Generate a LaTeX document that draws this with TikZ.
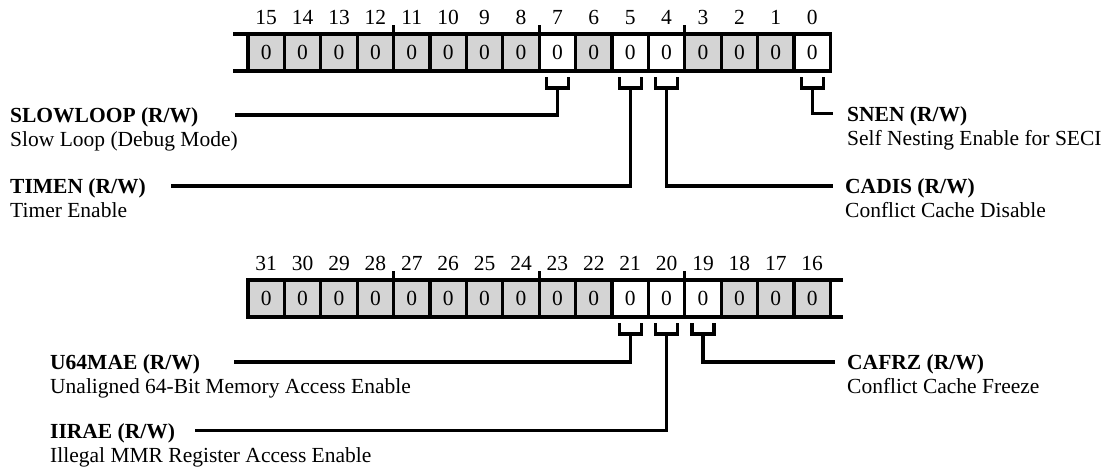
\documentclass[tikz,border=0pt]{standalone}
\usepackage{fontspec}
\setmainfont{Liberation Serif}
\usepackage{xcolor}
\usepackage{tikz}
\usetikzlibrary{positioning}
\definecolor{resgray}{gray}{0.83}
\newcommand{\regsize}{\fontsize{21.5pt}{26pt}\selectfont}
\tikzset{
  regbit/.style = {rectangle, draw, line width=3.2pt, fill=resgray,
    minimum width=36.4pt, minimum height=37pt, inner sep=0pt, outer sep=0pt},
  usedbit/.style = {regbit, fill=white},
  regline/.style = {line width=3.2pt},
  conn/.style = {line width=3.2pt},
  fieldname/.style = {inner sep=0pt, text height=15pt, text depth=0pt,
    font=\regsize\bfseries},
  fielddesc/.style = {inner sep=0pt, text height=15pt, text depth=0pt},
  every label/.style = {inner sep=0pt, text height=15pt, text depth=0pt},
}
\begin{document}
\begin{tikzpicture}[x=1pt, y=1pt, font=\regsize, label distance=9pt]
  \useasboundingbox (0,0) rectangle (1107,-471);

  % Low half-word
  \node[regbit, label=above:15] (r15) at (266.2,-52.5) {0};
  \node[regbit, right=0pt of r15, label=above:14] (r14) {0};
  \node[regbit, right=0pt of r14, label=above:13] (r13) {0};
  \node[regbit, right=0pt of r13, label=above:12] (r12) {0};
  \node[regbit, right=0pt of r12, label=above:11] (r11) {0};
  \node[regbit, right=0pt of r11, label=above:10] (r10) {0};
  \node[regbit, right=0pt of r10, label=above:9] (r9) {0};
  \node[regbit, right=0pt of r9, label=above:8] (r8) {0};
  \node[usedbit, right=0pt of r8, label=above:7] (r7) {0};
  \node[regbit, right=0pt of r7, label=above:6] (r6) {0};
  \node[usedbit, right=0pt of r6, label=above:5] (r5) {0};
  \node[usedbit, right=0pt of r5, label=above:4] (r4) {0};
  \node[regbit, right=0pt of r4, label=above:3] (r3) {0};
  \node[regbit, right=0pt of r3, label=above:2] (r2) {0};
  \node[regbit, right=0pt of r2, label=above:1] (r1) {0};
  \node[usedbit, right=0pt of r1, label=above:0] (r0) {0};

  \draw[regline] ([xshift=-15pt]r15.north west) -- (r15.north west);
  \draw[regline] ([xshift=-15pt]r15.south west) -- (r15.south west);
  \draw[regline] (r12.north east) -- ++(0,9);
  \draw[regline] (r8.north east) -- ++(0,9);
  \draw[regline] (r4.north east) -- ++(0,9);

  % High half-word
  \node[regbit, label=above:31] (r31) at (266.2,-298.5) {0};
  \node[regbit, right=0pt of r31, label=above:30] (r30) {0};
  \node[regbit, right=0pt of r30, label=above:29] (r29) {0};
  \node[regbit, right=0pt of r29, label=above:28] (r28) {0};
  \node[regbit, right=0pt of r28, label=above:27] (r27) {0};
  \node[regbit, right=0pt of r27, label=above:26] (r26) {0};
  \node[regbit, right=0pt of r26, label=above:25] (r25) {0};
  \node[regbit, right=0pt of r25, label=above:24] (r24) {0};
  \node[regbit, right=0pt of r24, label=above:23] (r23) {0};
  \node[regbit, right=0pt of r23, label=above:22] (r22) {0};
  \node[usedbit, right=0pt of r22, label=above:21] (r21) {0};
  \node[usedbit, right=0pt of r21, label=above:20] (r20) {0};
  \node[usedbit, right=0pt of r20, label=above:19] (r19) {0};
  \node[regbit, right=0pt of r19, label=above:18] (r18) {0};
  \node[regbit, right=0pt of r18, label=above:17] (r17) {0};
  \node[regbit, right=0pt of r17, label=above:16] (r16) {0};

  \draw[regline] (r16.north east) -- ++(13,0);
  \draw[regline] (r16.south east) -- ++(13,0);
  \draw[regline] (r28.north east) -- ++(0,9);
  \draw[regline] (r24.north east) -- ++(0,9);
  \draw[regline] (r20.north east) -- ++(0,9);

  % Field names and descriptions
  \node[fieldname, anchor=west] (slowloop) at (10,-115) {SLOWLOOP (R/W)};
  \node[fielddesc, below right=9pt and 0pt of slowloop.south west] (slowloopd) {Slow Loop (Debug Mode)};
  \node[fieldname, anchor=west] (timen) at (10,-186) {TIMEN (R/W)};
  \node[fielddesc, below right=9pt and 0pt of timen.south west] (timend) {Timer Enable};
  \node[fieldname, anchor=west] (snen) at (847,-113.5) {SNEN (R/W)};
  \node[fielddesc, below right=9pt and 0pt of snen.south west] (snend) {Self Nesting Enable for SECI};
  \node[fieldname, anchor=west] (cadis) at (845,-186) {CADIS (R/W)};
  \node[fielddesc, below right=9pt and 0pt of cadis.south west] (cadisd) {Conflict Cache Disable};
  \node[fieldname, anchor=west] (u64mae) at (50,-362) {U64MAE (R/W)};
  \node[fielddesc, below right=9pt and 0pt of u64mae.south west] (u64maed) {Unaligned 64-Bit Memory Access Enable};
  \node[fieldname, anchor=west] (iirae) at (50,-430.5) {IIRAE (R/W)};
  \node[fielddesc, below right=9pt and 0pt of iirae.south west] (iiraed) {Illegal MMR Register Access Enable};
  \node[fieldname, anchor=west] (cafrz) at (847,-362) {CAFRZ (R/W)};
  \node[fielddesc, below right=9pt and 0pt of cafrz.south west] (cafrzd) {Conflict Cache Freeze};

  % Brackets and leader lines
  \draw[conn] ([shift={(-11,-6)}]r7.south) -- ++(0,-11) -- ++(22,0) -- ++(0,11)
    ([yshift=-17pt]r7.south) |- ([xshift=36pt]slowloop.east);
  \draw[conn] ([shift={(-11,-6)}]r5.south) -- ++(0,-11) -- ++(22,0) -- ++(0,11)
    ([yshift=-17pt]r5.south) |- ([xshift=25pt]timen.east);
  \draw[conn] ([shift={(-11,-6)}]r4.south) -- ++(0,-11) -- ++(22,0) -- ++(0,11)
    ([yshift=-17pt]r4.south) |- ([xshift=-12pt]cadis.west);
  \draw[conn] ([shift={(-11,-6)}]r0.south) -- ++(0,-11) -- ++(22,0) -- ++(0,11)
    ([yshift=-17pt]r0.south) |- ([xshift=-14pt]snen.west);
  \draw[conn] ([shift={(-11,-6)}]r21.south) -- ++(0,-11) -- ++(22,0) -- ++(0,11)
    ([yshift=-17pt]r21.south) |- ([xshift=34pt]u64mae.east);
  \draw[conn] ([shift={(-11,-6)}]r20.south) -- ++(0,-11) -- ++(22,0) -- ++(0,11)
    ([yshift=-17pt]r20.south) |- ([xshift=20pt]iirae.east);
  \draw[conn] ([shift={(-11,-6)}]r19.south) -- ++(0,-11) -- ++(22,0) -- ++(0,11)
    ([yshift=-17pt]r19.south) |- ([xshift=-12pt]cafrz.west);

\end{tikzpicture}
\end{document}
